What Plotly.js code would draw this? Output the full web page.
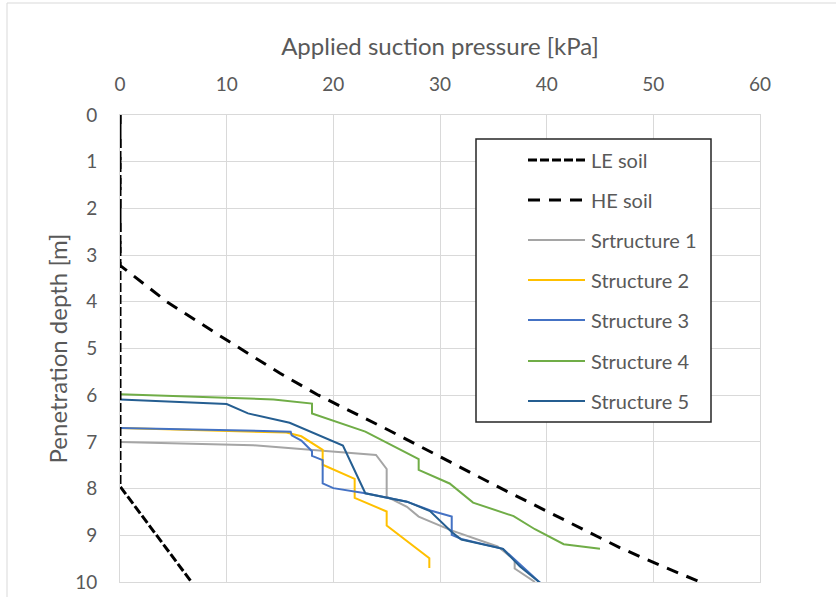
<!DOCTYPE html>
<html>
<head>
<meta charset="utf-8">
<script src="https://cdn.plot.ly/plotly-3.0.1.min.js"></script>
<style>
  html, body { margin: 0; padding: 0; background: #ffffff; }
  #chart { width: 836px; height: 597px; }
</style>
</head>
<body>
<div id="chart"></div>
<script>
// Suction pressure (kPa) against penetration depth (m)
const leSoilP = [0, 0, 6.7];
const leSoilZ = [0, 7.95, 10.0];

const heSoilP = [0, 0, 4.4, 10, 15, 18.6, 25.2, 35.6, 46.9, 50.6, 54.4];
const heSoilZ = [0, 3.22, 4.0, 4.82, 5.53, 6.0, 6.75, 7.98, 9.27, 9.64, 10.0];

const s1P = [0, 12.5, 19.0, 24.0, 25.0, 25.0, 26.9, 28.0, 31.0, 35.4, 37.0, 37.0, 38.9];
const s1Z = [7.0, 7.07, 7.19, 7.28, 7.58, 8.17, 8.39, 8.6, 8.89, 9.24, 9.53, 9.71, 10.0];

const s2P = [0, 15.6, 17.0, 19.0, 19.0, 22.0, 22.0, 25.0, 25.0, 29.0, 29.0];
const s2Z = [6.7, 6.8, 6.88, 7.17, 7.49, 7.79, 8.2, 8.49, 8.79, 9.49, 9.7];

const s3P = [0, 16.0, 16.1, 17.0, 18.0, 18.0, 19.0, 19.0, 20.0, 23.0, 26.9, 29.1, 31.1, 31.1, 32.0, 35.9, 39.4];
const s3Z = [6.7, 6.78, 6.86, 6.97, 7.2, 7.3, 7.39, 7.89, 7.99, 8.1, 8.28, 8.47, 8.6, 8.99, 9.08, 9.29, 10.02];

const s4P = [0, 14.4, 18.0, 18.0, 23.0, 28.0, 28.0, 30.9, 33.1, 36.9, 38.9, 41.6, 45.0];
const s4Z = [5.98, 6.09, 6.18, 6.39, 6.78, 7.37, 7.6, 7.89, 8.3, 8.59, 8.87, 9.19, 9.29];

const s5P = [0, 10.0, 12.0, 15.9, 20.9, 23.0, 26.9, 29.06, 31.1, 32.0, 35.9, 37.5, 39.4];
const s5Z = [6.09, 6.19, 6.39, 6.59, 7.08, 8.1, 8.28, 8.48, 8.93, 9.09, 9.29, 9.67, 10.02];

const seriesNames = ['LE soil', 'HE soil', 'Srtructure 1', 'Structure 2', 'Structure 3', 'Structure 4', 'Structure 5'];
const xTickVals = [0, 10, 20, 30, 40, 50, 60];
const yTickVals = [0, 1, 2, 3, 4, 5, 6, 7, 8, 9, 10];

const textColor = '#595959';
const gridColor = '#D9D9D9';
const fontFamily = 'Lato, "Open Sans", sans-serif';

const styles = [
  { color: '#000000', width: 3, dash: '9px,3px' },
  { color: '#000000', width: 3, dash: '12px,9px' },
  { color: '#A5A5A5', width: 2, dash: 'solid' },
  { color: '#FFC000', width: 2, dash: 'solid' },
  { color: '#4472C4', width: 2, dash: 'solid' },
  { color: '#70AD47', width: 2, dash: 'solid' },
  { color: '#255E91', width: 2, dash: 'solid' }
];

const xs = [leSoilP, heSoilP, s1P, s2P, s3P, s4P, s5P];
const ys = [leSoilZ, heSoilZ, s1Z, s2Z, s3Z, s4Z, s5Z];

// plot area in pixels
const W = 836, H = 597;
const M = { l: 120, r: 76, t: 115, b: 15 };
const pw = W - M.l - M.r, ph = H - M.t - M.b;
const px = v => (v - M.l) / pw;
const py = v => 1 - (v - M.t) / ph;

// draw order: structures under the soil lines
const order = [2, 3, 4, 5, 6, 0, 1];
const traces = order.map(i => ({
  type: 'scatter',
  mode: 'lines',
  name: seriesNames[i],
  x: xs[i],
  y: ys[i],
  line: { color: styles[i].color, width: styles[i].width, dash: styles[i].dash },
  showlegend: false,
  hoverinfo: 'x+y+name'
}));

// legend box drawn as shapes + annotations
const legendBox = { x0: 476, x1: 711, y0: 139, y1: 422 };
const entryY = [160, 200, 240, 280, 320, 361, 401];
const sampleX0 = 528, sampleX1 = 585, labelX = 589;

const shapes = [
  // outer chart frame (top and left edges)
  { type: 'line', xref: 'paper', yref: 'paper', x0: px(7), x1: px(W + 5), y0: py(3), y1: py(3),
    line: { color: gridColor, width: 1 } },
  { type: 'line', xref: 'paper', yref: 'paper', x0: px(7), x1: px(7), y0: py(3), y1: py(H + 5),
    line: { color: gridColor, width: 1 } },
  { type: 'rect', xref: 'paper', yref: 'paper',
    x0: px(legendBox.x0), x1: px(legendBox.x1), y0: py(legendBox.y0), y1: py(legendBox.y1),
    fillcolor: '#ffffff', line: { color: '#262626', width: 1.5 }, layer: 'above' }
];
const annotations = [];
seriesNames.forEach((name, i) => {
  shapes.push({ type: 'line', xref: 'paper', yref: 'paper',
    x0: px(sampleX0), x1: px(sampleX1), y0: py(entryY[i]), y1: py(entryY[i]),
    line: { color: styles[i].color, width: styles[i].width, dash: styles[i].dash }, layer: 'above' });
  annotations.push({ xref: 'paper', yref: 'paper', x: px(labelX), y: py(entryY[i]),
    xanchor: 'left', yanchor: 'middle', showarrow: false, text: name,
    font: { family: fontFamily, size: 20, color: textColor } });
});

const layout = {
  width: W, height: H,
  margin: M,
  paper_bgcolor: '#ffffff',
  plot_bgcolor: '#ffffff',
  showlegend: false,
  font: { family: fontFamily, color: textColor },
  xaxis: {
    side: 'top',
    range: [0, 60],
    tickvals: xTickVals,
    ticks: '',
    showgrid: true, gridcolor: gridColor, gridwidth: 1,
    zeroline: false,
    showline: true, linecolor: gridColor, mirror: true,
    tickfont: { size: 19, color: textColor },
    ticklabelstandoff: 15,
    title: { text: 'Applied suction pressure [kPa]', font: { size: 24, color: textColor }, standoff: 10 }
  },
  yaxis: {
    range: [10, 0],
    tickvals: yTickVals,
    ticks: '',
    showgrid: true, gridcolor: gridColor, gridwidth: 1,
    zeroline: false,
    showline: true, linecolor: gridColor, mirror: true,
    tickfont: { size: 19, color: textColor },
    ticklabelstandoff: 18,
    title: { text: 'Penetration depth [m]', font: { size: 24, color: textColor }, standoff: 0 }
  },
  shapes: shapes,
  annotations: annotations
};

Plotly.newPlot('chart', traces, layout, { displayModeBar: false, staticPlot: true });
</script>
</body>
</html>
